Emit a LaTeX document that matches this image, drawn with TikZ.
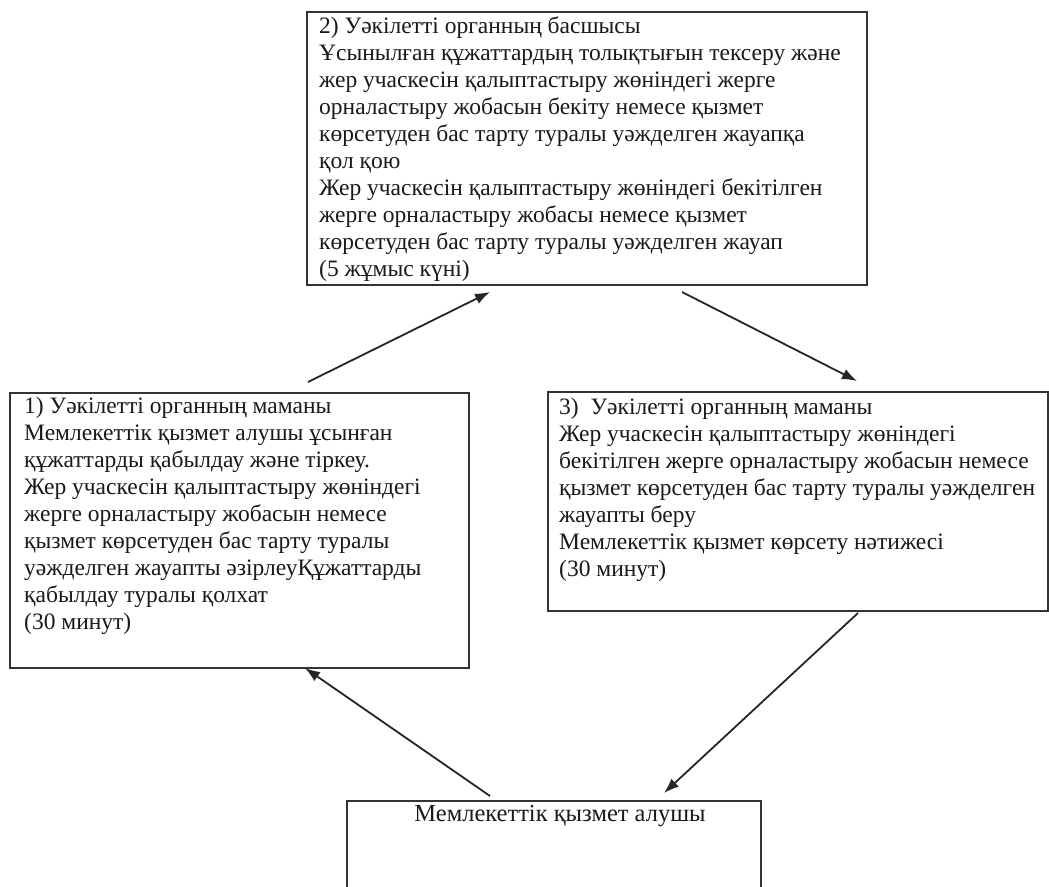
\documentclass[tikz,border=0pt]{standalone}
\usepackage{fontspec}
\setmainfont{Liberation Serif}
\usetikzlibrary{arrows.meta}
\begin{document}
\begin{tikzpicture}[x=1pt,y=-1pt,
  box/.style={draw=black!80, line width=2pt, anchor=north west, inner sep=0pt},
  txt/.style={anchor=north west, inner sep=0pt, align=left, font=\fontsize{23.5}{27}\selectfont, text=black!90},
  bigtxt/.style={anchor=center, inner sep=0pt, font=\fontsize{24.5}{30}\selectfont, text=black!90},
  conn/.style={draw=black!85, line width=1.8pt, -{Latex[length=15pt,width=11pt]}}]
\useasboundingbox (0,0) rectangle (1049,886);
\fill[white] (0,0) rectangle (1049,886);
% boxes
\node[box, minimum width=560pt, minimum height=273pt] (b2) at (306,11) {};
\node[box, minimum width=459pt, minimum height=275pt] (b1) at (9,392) {};
\node[box, minimum width=500pt, minimum height=219pt] (b3) at (547,391) {};
\node[box, minimum width=414pt, minimum height=120pt] (b4) at (346,800) {};
% texts
\node[txt] (t2) at (319,16) {2) Уәкілетті органның басшысы\\
Ұсынылған құжаттардың\ толықтығын тексеру және\\
жер учаскесін қалыптастыру\ жөніндегі\ жерге\\
орналастыру жобасын\ бекіту немесе\ қызмет\\
көрсетуден бас тарту\ туралы уәжделген\ жауапқа\\
қол қою\\
Жер учаскесін\ қалыптастыру жөніндегі бекітілген\\
жерге орналастыру жобасы немесе қызмет\\
көрсетуден бас тарту туралы уәжделген\ жауап\\
(5 жұмыс күні)};
\node[txt] (t1) at (24,397) {1) Уәкілетті органның маманы\\
Мемлекеттік қызмет алушы ұсынған\\
құжаттарды қабылдау және тіркеу.\\
Жер учаскесін\ қалыптастыру жөніндегі\\
жерге орналастыру жобасын\ немесе\\
қызмет көрсетуден бас\ тарту туралы\\
уәжделген жауапты\ әзірлеуҚұжаттарды\\
қабылдау туралы қолхат\\
(30 минут)};
\node[txt] (t3) at (559,398) {3)\ \ Уәкілетті органның маманы\\
Жер учаскесін\ қалыптастыру жөніндегі\\
бекітілген жерге орналастыру\ жобасын немесе\\
қызмет көрсетуден бас тарту туралы уәжделген\\
жауапты беру\\
Мемлекеттік қызмет көрсету нәтижесі\\
(30 минут)};
\node[bigtxt] (t4) at (560,816) {Мемлекеттік\ қызмет\ алушы};
% connector end points
\coordinate (a1s) at (308,382);
\coordinate (a1e) at (490,292);
\coordinate (a2s) at (682,292);
\coordinate (a2e) at (857,381);
\coordinate (a3s) at (858,613);
\coordinate (a3e) at (664,793);
\coordinate (a4s) at (490,796);
\coordinate (a4e) at (305,668);
\draw[conn] (a1s) -- (a1e);
\draw[conn] (a2s) -- (a2e);
\draw[conn] (a3s) -- (a3e);
\draw[conn] (a4s) -- (a4e);
\end{tikzpicture}
\end{document}
